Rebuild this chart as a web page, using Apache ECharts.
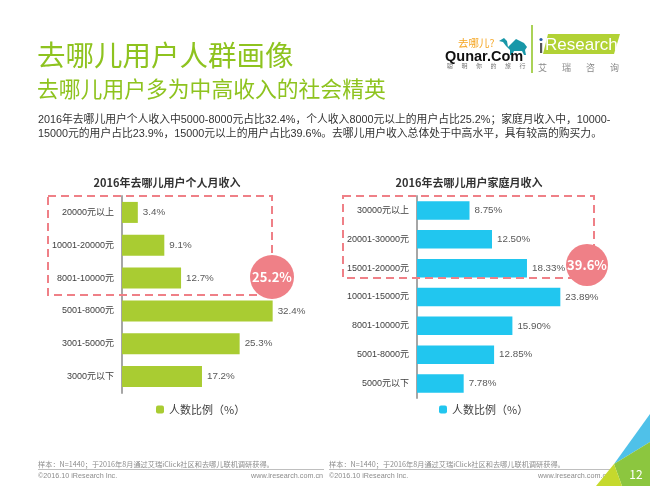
<!DOCTYPE html>
<html>
<head>
<meta charset="utf-8">
<script src="https://cdn.jsdelivr.net/npm/echarts@6/dist/echarts.min.js"></script>
<style>
html,body{margin:0;padding:0;background:#fff;}
#chart{width:650px;height:486px;}
</style>
</head>
<body>
<div id="chart"></div>
<script>
// ---- data ----
const personalCategories = ['20000元以上','10001-20000元','8001-10000元','5001-8000元','3001-5000元','3000元以下'];
const personalValues = [3.4, 9.1, 12.7, 32.4, 25.3, 17.2];
const personalHighlight = '25.2%';

const familyCategories = ['30000元以上','20001-30000元','15001-20000元','10001-15000元','8001-10000元','5001-8000元','5000元以下'];
const familyValues = [8.75, 12.50, 18.33, 23.89, 15.90, 12.85, 7.78];
const familyHighlight = '39.6%';

const legendName = '人数比例（%）';
const titleText = '去哪儿用户人群画像';
const subtitleText = '去哪儿用户多为中高收入的社会精英';
const paragraphLines = [
  '2016年去哪儿用户个人收入中5000-8000元占比32.4%，个人收入8000元以上的用户占比25.2%；家庭月收入中，10000-',
  '15000元的用户占比23.9%，15000元以上的用户占比39.6%。去哪儿用户收入总体处于中高水平，具有较高的购买力。'
];
const chartTitles = ['2016年去哪儿用户个人月收入','2016年去哪儿用户家庭月收入'];
const sourceNote = '样本：N=1440；于2016年8月通过艾瑞iClick社区和去哪儿联机调研获得。';
const copyright = '©2016.10 iResearch Inc.';
const website = 'www.iresearch.com.cn';
const pageNo = '12';

// ---- chart ----
const FONT = '"Noto Sans CJK SC", "Noto Sans", sans-serif';
const MIXFONT = '"Liberation Sans", "Noto Sans CJK SC", sans-serif';
const GREEN = '#8EC31F';
const BAR_GREEN = '#A9CC32';
const BAR_BLUE = '#21C6EF';
const PINK = '#EF8087';

const chart = echarts.init(document.getElementById('chart'));

function txt(x, y, text, style, extra) {
  return Object.assign({
    type: 'text', x: x, y: y, silent: true,
    style: Object.assign({ text: text, fontFamily: FONT, verticalAlign: 'middle' }, style)
  }, extra || {});
}

const graphics = [];
// titles
graphics.push(txt(37, 55, titleText, { fontSize: 28.5, fill: GREEN }));
graphics.push(txt(37, 89, subtitleText, { fontSize: 21.8, fill: GREEN }));
paragraphLines.forEach((l, i) => graphics.push(txt(38, 120 + i * 14, l, { fontSize: 10.8, fill: '#333', fontFamily: MIXFONT })));
// chart titles
graphics.push(txt(167, 183, chartTitles[0], { fontSize: 11, fontWeight: 'bold', fill: '#333', align: 'center' }));
graphics.push(txt(469, 183, chartTitles[1], { fontSize: 11, fontWeight: 'bold', fill: '#333', align: 'center' }));
// dashed boxes
graphics.push({ type: 'rect', silent: true, shape: { x: 48, y: 196, width: 224, height: 99 },
  style: { fill: 'none', stroke: PINK, lineWidth: 2, lineDash: [8, 5] }, z: 10 });
graphics.push({ type: 'rect', silent: true, shape: { x: 343, y: 196, width: 251, height: 82 },
  style: { fill: 'none', stroke: PINK, lineWidth: 2, lineDash: [8, 5] }, z: 10 });
// circles
graphics.push({ type: 'circle', silent: true, shape: { cx: 272, cy: 277, r: 22 }, style: { fill: PINK }, z: 11 });
graphics.push(txt(272, 277, personalHighlight, { fontSize: 13, fontWeight: 'bold', fill: '#fff', align: 'center' }, { z: 12 }));
graphics.push({ type: 'circle', silent: true, shape: { cx: 587, cy: 265, r: 21 }, style: { fill: PINK }, z: 11 });
graphics.push(txt(587, 265, familyHighlight, { fontSize: 13, fontWeight: 'bold', fill: '#fff', align: 'center' }, { z: 12 }));

// footer
[38, 329].forEach((x) => {
  graphics.push(txt(x, 464, sourceNote, { fontSize: 7.2, fill: '#8c8c8c' }));
  graphics.push(txt(x, 476, copyright, { fontSize: 7.2, fill: '#8c8c8c', fontFamily: MIXFONT }));
});
graphics.push(txt(323, 476, website, { fontSize: 7.2, fill: '#8c8c8c', align: 'right', fontFamily: MIXFONT }));
graphics.push(txt(610, 476, website, { fontSize: 7.2, fill: '#8c8c8c', align: 'right', fontFamily: MIXFONT }));
graphics.push({ type: 'line', silent: true, shape: { x1: 38, y1: 469.5, x2: 324, y2: 469.5 }, style: { stroke: '#bfbfbf', lineWidth: 1 } });
graphics.push({ type: 'line', silent: true, shape: { x1: 329, y1: 469.5, x2: 612, y2: 469.5 }, style: { stroke: '#bfbfbf', lineWidth: 1 } });

// corner decoration
graphics.push({ type: 'polygon', silent: true, shape: { points: [[650, 414], [614, 464], [650, 442]] }, style: { fill: '#4FC1E9' } });
graphics.push({ type: 'polygon', silent: true, shape: { points: [[650, 442], [614, 464], [622, 486], [650, 486]] }, style: { fill: '#8CC63F' } });
graphics.push({ type: 'polygon', silent: true, shape: { points: [[614, 464], [596, 486], [622, 486]] }, style: { fill: '#C5D92D' } });
graphics.push(txt(636, 474, pageNo, { fontSize: 12, fill: '#fff', align: 'center' }, { z: 5 }));

// Qunar logo
graphics.push(txt(458, 43.5, '去哪儿?', { fontSize: 10.5, fill: '#F5A623' }));
graphics.push({ type: 'polygon', silent: true,
  shape: { points: [[499,41],[504,38],[507,41],[508,47],[512,43],[516,39],[520,41],[524,43],[527,47],[525,50],[526,55],[524,55],[522,51],[514,51],[512,55],[510,55],[510,50],[506,46],[503,42]] },
  style: { fill: '#1897A8' } });
graphics.push(txt(445, 57, 'Qunar.Com', { fontSize: 14.5, fontWeight: 'bold', fill: '#111', fontFamily: '"Liberation Sans", Arial, sans-serif' }));
'聪明你的旅行'.split('').forEach((c, i) => graphics.push(txt(447 + i * 14.5, 66, c, { fontSize: 6, fill: '#777' })));
graphics.push({ type: 'line', silent: true, shape: { x1: 532, y1: 25, x2: 532, y2: 73 }, style: { stroke: GREEN, lineWidth: 1.5 } });
// iResearch logo
graphics.push({ type: 'polygon', silent: true, shape: { points: [[548, 34], [620, 34], [614, 54], [543, 54]] }, style: { fill: '#B2D235' } });
graphics.push({ type: 'circle', silent: true, shape: { cx: 541, cy: 39.5, r: 1.6 }, style: { fill: '#2B5EA8' } });
graphics.push({ type: 'rect', silent: true, shape: { x: 540, y: 43, width: 2.2, height: 10 }, style: { fill: '#555' } });
graphics.push(txt(545, 45, 'Research', { fontSize: 17, fill: '#fff', fontFamily: '"Liberation Sans", Arial, sans-serif' }));
'艾瑞咨询'.split('').forEach((c, i) => graphics.push(txt(538 + i * 24, 68, c, { fontSize: 9, fill: '#888' })));

function yAxisCfg(gridIndex, cats) {
  return {
    type: 'category', gridIndex: gridIndex, data: cats, inverse: true,
    axisLine: { show: true, lineStyle: { color: '#a6a6a6', width: 2 } },
    axisTick: { show: false },
    axisLabel: { color: '#404040', fontSize: 9, fontFamily: MIXFONT, margin: 8 }
  };
}
function xAxisCfg(gridIndex, max) {
  return { type: 'value', gridIndex: gridIndex, min: 0, max: max, show: false, splitLine: { show: false } };
}

const option = {
  animation: false,
  backgroundColor: '#fff',
  grid: [
    { left: 122, top: 196, width: 186, height: 197, containLabel: false, outerBoundsMode: 'none' },
    { left: 417, top: 196, width: 180, height: 202, containLabel: false, outerBoundsMode: 'none' }
  ],
  xAxis: [xAxisCfg(0, 40), xAxisCfg(1, 30)],
  yAxis: [yAxisCfg(0, personalCategories), yAxisCfg(1, familyCategories)],
  legend: [
    { data: ['personal'], left: 151, top: 399, itemWidth: 8, itemHeight: 8, itemGap: 4,
      formatter: () => legendName, textStyle: { fontSize: 11, color: '#404040', fontFamily: FONT } },
    { data: ['family'], left: 434, top: 399, itemWidth: 8, itemHeight: 8, itemGap: 4,
      formatter: () => legendName, textStyle: { fontSize: 11, color: '#404040', fontFamily: FONT } }
  ],
  series: [
    { name: 'personal', type: 'bar', xAxisIndex: 0, yAxisIndex: 0, data: personalValues,
      barWidth: 21, itemStyle: { color: BAR_GREEN },
      label: { show: true, position: 'right', distance: 5, color: '#595959', fontSize: 9.8, fontFamily: MIXFONT,
        formatter: (p) => p.value.toFixed(1) + '%' } },
    { name: 'family', type: 'bar', xAxisIndex: 1, yAxisIndex: 1, data: familyValues,
      barWidth: 18.5, itemStyle: { color: BAR_BLUE },
      label: { show: true, position: 'right', distance: 5, color: '#595959', fontSize: 9.8, fontFamily: MIXFONT,
        formatter: (p) => p.value.toFixed(2) + '%' } }
  ],
  graphic: graphics
};
chart.setOption(option);
</script>
</body>
</html>
